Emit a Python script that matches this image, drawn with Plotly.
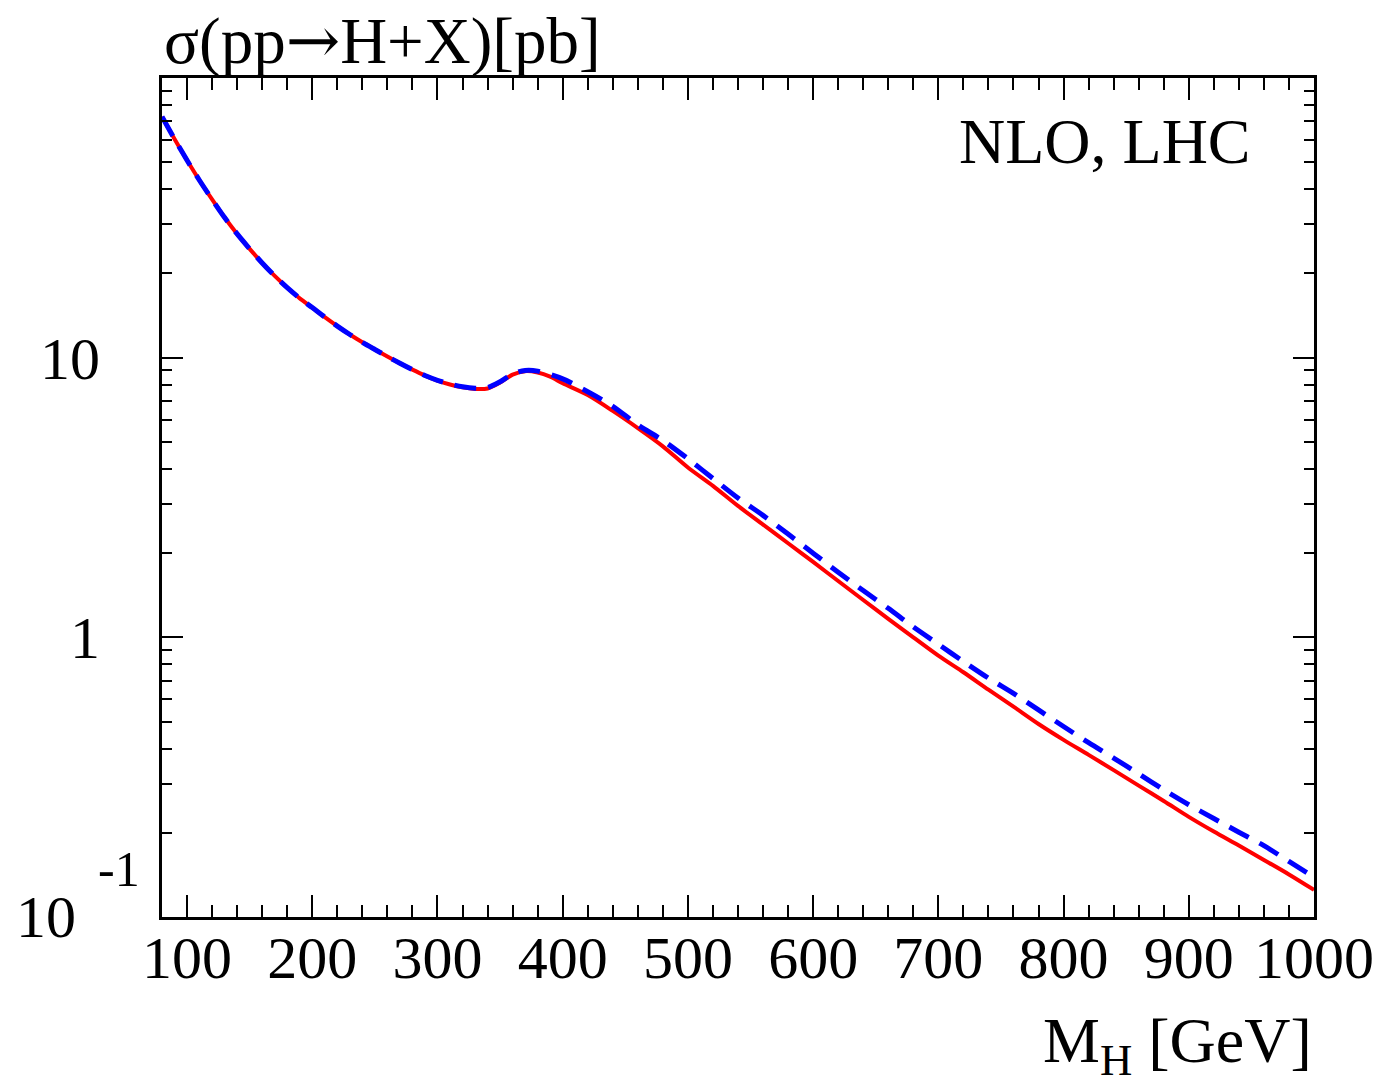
import plotly.graph_objects as go

# Higgs mass grid [GeV] and NLO cross sections sigma(pp -> H+X) [pb]
mass_red = [80, 90, 100, 110, 120, 130, 140, 150, 160, 170, 180, 190, 200, 210,
            220, 230, 240, 250, 260, 270, 280, 290, 300, 310, 320, 330, 340,
            350, 360, 370, 380, 390, 400, 420, 440, 460, 480, 500, 520, 540,
            560, 580, 600, 620, 640, 660, 680, 700, 720, 740, 760, 780, 800,
            820, 840, 860, 880, 900, 920, 940, 960, 980, 1000]
sigma_red = [72.7, 60.5, 50.8, 43.0, 36.8, 31.7, 27.7, 24.5, 21.8, 19.6, 17.8,
             16.3, 15.1, 13.96, 12.97, 12.1, 11.35, 10.7, 10.1, 9.55, 9.06,
             8.63, 8.28, 8.02, 7.83, 7.73, 7.76, 8.15, 8.7, 8.95, 8.85, 8.55,
             8.1, 7.35, 6.45, 5.6, 4.82, 4.05, 3.48, 2.95, 2.53, 2.17, 1.86,
             1.59, 1.36, 1.165, 1.0, 0.86, 0.75, 0.65, 0.565, 0.49, 0.43, 0.38,
             0.335, 0.295, 0.26, 0.228, 0.202, 0.18, 0.16, 0.142, 0.125]

mass_blue = [80, 90, 100, 110, 120, 130, 140, 150, 160, 170, 180, 190, 200, 210,
             220, 230, 240, 250, 260, 270, 280, 290, 300, 310, 320, 330, 340,
             350, 360, 370, 380, 400, 420, 440, 460, 480, 500, 520, 540, 560,
             580, 600, 620, 640, 660, 680, 700, 720, 740, 760, 780, 800, 820,
             840, 860, 880, 900, 920, 940, 960, 980, 1000]
sigma_blue = [72.7, 60.5, 50.8, 43.0, 36.8, 31.7, 27.7, 24.5, 21.8, 19.6, 17.8,
              16.3, 15.1, 13.96, 12.97, 12.1, 11.35, 10.7, 10.1, 9.55, 9.06,
              8.63, 8.3, 8.05, 7.87, 7.78, 7.82, 8.2, 8.75, 9.0, 8.95, 8.4,
              7.55, 6.7, 5.75, 5.06, 4.35, 3.7, 3.15, 2.73, 2.34, 2.0, 1.71,
              1.47, 1.27, 1.09, 0.945, 0.82, 0.715, 0.63, 0.55, 0.48, 0.42,
              0.37, 0.325, 0.285, 0.252, 0.225, 0.201, 0.18, 0.158, 0.139]

# Axis ticks
x_ticks = [100, 200, 300, 400, 500, 600, 700, 800, 900, 1000]
x_tick_labels = ["100", "200", "300", "400", "500", "600", "700", "800", "900", "1000"]
y_ticks = [1, 10]
y_tick_labels = ["1", "10"]
y_minor = [m * 10.0 ** e for e in (-1, 0, 1) for m in range(2, 10)]

FONT = "Liberation Serif"

fig = go.Figure()
fig.add_trace(go.Scatter(x=mass_red, y=sigma_red, mode="lines",
                         line=dict(color="#ff0000", width=4, shape="spline", smoothing=0.8),
                         showlegend=False))
fig.add_trace(go.Scatter(x=mass_blue, y=sigma_blue, mode="lines",
                         line=dict(color="#0000ff", width=5, dash="22px,12px",
                                   shape="spline", smoothing=0.8),
                         showlegend=False))

fig.update_layout(
    width=1386, height=1088,
    margin=dict(l=162, r=72, t=78, b=171),
    paper_bgcolor="white", plot_bgcolor="white",
    font=dict(family=FONT, size=60, color="black"),
)

fig.update_xaxes(
    range=[80, 1000], tickmode="array", tickvals=x_ticks, ticktext=x_tick_labels,
    showgrid=False, zeroline=False,
    showline=True, linecolor="black", linewidth=3, mirror="allticks",
    ticks="inside", ticklen=22, tickwidth=2, tickcolor="black",
    minor=dict(dtick=20, tick0=0, ticks="inside", ticklen=12, tickwidth=2,
               tickcolor="black", showgrid=False),
    tickfont=dict(family=FONT, size=60, color="black"),
    ticklabelstandoff=-14,
)
fig.update_yaxes(
    type="log", range=[-1, 2], tickmode="array", tickvals=y_ticks, ticktext=y_tick_labels,
    showgrid=False, zeroline=False,
    showline=True, linecolor="black", linewidth=3, mirror="allticks",
    ticks="inside", ticklen=21, tickwidth=2, tickcolor="black",
    minor=dict(tickvals=y_minor, ticks="inside", ticklen=10, tickwidth=2,
               tickcolor="black", showgrid=False),
    tickfont=dict(family=FONT, size=60, color="black"),
    ticklabelstandoff=47,
)

# 10^-1 label drawn in the ROOT style with a detached exponent
fig.add_annotation(text="10", x=0, y=-1, xref="paper", yref="y", xanchor="right",
                   yanchor="middle", xshift=-84, showarrow=False,
                   font=dict(family=FONT, size=60, color="black"))
fig.add_annotation(text="-1", x=0, y=-1, xref="paper", yref="y", xanchor="right",
                   yanchor="middle", xshift=-20, yshift=48, showarrow=False,
                   font=dict(family=FONT, size=50, color="black"))

# Axis titles and label
fig.add_annotation(text="σ(pp<span style='font-family:DejaVu Serif'>→</span>H+X)[pb]",
                   x=0, y=1.045, xref="paper", yref="paper",
                   xanchor="left", yanchor="middle", showarrow=False,
                   font=dict(family=FONT, size=65, color="black"))
fig.add_annotation(text="NLO, LHC", x=0.947, y=0.924, xref="paper", yref="paper",
                   xanchor="right", yanchor="middle", showarrow=False,
                   font=dict(family=FONT, size=64, color="black"))
fig.add_annotation(text="M<sub>H</sub> [GeV]", x=1.0, y=-0.152, xref="paper", yref="paper",
                   xanchor="right", yanchor="middle", showarrow=False,
                   font=dict(family=FONT, size=64, color="black"))

fig.write_html("out.html")
